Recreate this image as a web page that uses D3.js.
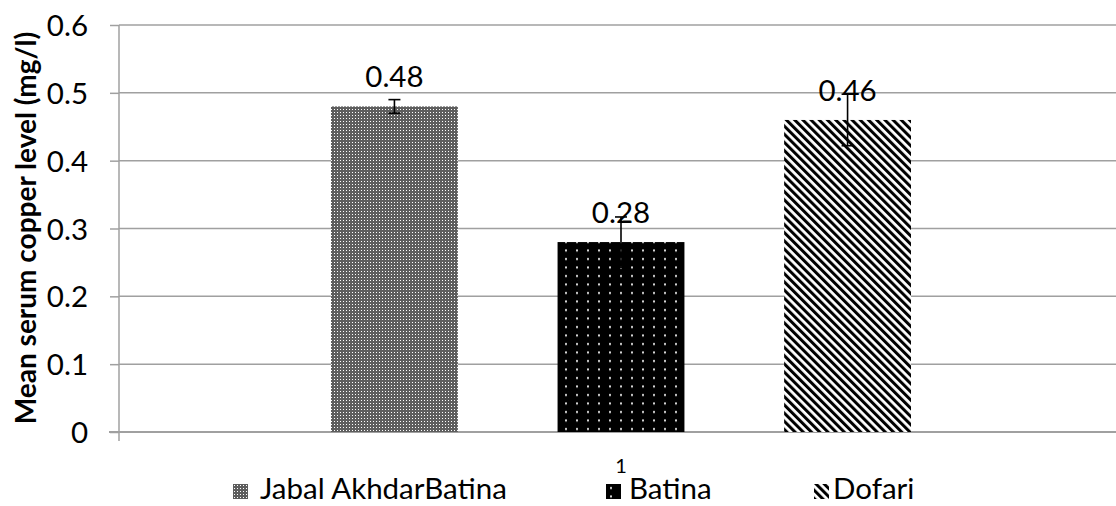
<!DOCTYPE html>
<html><head><meta charset="utf-8">
<script src="https://cdn.jsdelivr.net/npm/d3@7"></script>
<style>
html,body{margin:0;padding:0;background:#fff;}
svg{display:block;}
text{font-family:Lato,"Open Sans",sans-serif;fill:#000;}
</style></head>
<body>
<svg id="chart" width="1116" height="506"></svg>
<script>
// ---- data ----
const categories = ["1"];
const seriesNames = ["Jabal AkhdarBatina", "Batina", "Dofari"];
const seriesValues = [0.48, 0.28, 0.46];
const seriesErrors = [0.01, 0.037, 0.038];
const yTickValues = [0, 0.1, 0.2, 0.3, 0.4, 0.5, 0.6];
const yTickLabels = ["0", "0.1", "0.2", "0.3", "0.4", "0.5", "0.6"];
const yAxisTitle = "Mean serum copper level (mg/l)";

// ---- layout ----
const W = 1116, H = 506;
const plot = {left: 119, right: 1123, top: 25, bottom: 432};
const gridColor = "#a0a0a0";
const FS = 29.5;

const svg = d3.select("#chart");
const defs = svg.append("defs");

// patterns
const p1 = defs.append("pattern").attr("id","pat0").attr("patternUnits","userSpaceOnUse")
  .attr("width",3).attr("height",3);
p1.append("rect").attr("width",3).attr("height",3).attr("fill","#5e5e5e");
p1.append("rect").attr("x",1).attr("y",1).attr("width",1).attr("height",1).attr("fill","#fff");

const p2 = defs.append("pattern").attr("id","pat1").attr("patternUnits","userSpaceOnUse")
  .attr("width",11).attr("height",8.5);
p2.append("rect").attr("width",11).attr("height",8.5).attr("fill","#000");
p2.append("rect").attr("x",4).attr("y",3).attr("width",2).attr("height",2).attr("fill","#ddd");

const pw = 5.8;
const p3 = defs.append("pattern").attr("id","pat2").attr("patternUnits","userSpaceOnUse")
  .attr("width",pw).attr("height",pw).attr("patternTransform","rotate(-45)");
p3.append("rect").attr("width",pw).attr("height",pw).attr("fill","#fff");
p3.append("rect").attr("width",pw*0.52).attr("height",pw).attr("fill","#000");

// scales
const y = d3.scaleLinear().domain([0, 0.6]).range([plot.bottom, plot.top]);
const x0 = d3.scaleBand().domain(categories).range([plot.left, plot.right])
  .paddingInner(0).paddingOuter(0.3655);
const x1 = d3.scaleBand().domain(seriesNames).range([0, x0.bandwidth()])
  .paddingInner(0.44).paddingOuter(0);

// gridlines
svg.append("g").selectAll("line").data(yTickValues.filter(v => v > 0)).join("line")
  .attr("x1", plot.left).attr("x2", plot.right)
  .attr("y1", d => y(d)).attr("y2", d => y(d))
  .attr("stroke", gridColor).attr("stroke-width", 1.5);

// y axis
const yAxis = d3.axisLeft(y).tickValues(yTickValues).tickSize(9).tickPadding(22)
  .tickFormat((d,i) => yTickLabels[i]);
const gy = svg.append("g").attr("transform", `translate(${plot.left},0)`).call(yAxis);
gy.select(".domain").attr("stroke", gridColor).attr("stroke-width",1.5)
  .attr("d", `M0,${plot.top}V${plot.bottom}`);
gy.selectAll(".tick line").attr("stroke", gridColor).attr("stroke-width",1.5);
gy.selectAll(".tick text").attr("font-size", FS).attr("font-family","Lato").attr("fill","#000")
  .attr("dy","0.36em");

// x axis
const gx = svg.append("g").attr("transform", `translate(0,${plot.bottom})`);
gx.append("line").attr("x1", plot.left - 10).attr("x2", plot.right)
  .attr("stroke", gridColor).attr("stroke-width", 2);
gx.append("line").attr("x1", plot.left).attr("x2", plot.left).attr("y1",0).attr("y2",9)
  .attr("stroke", gridColor).attr("stroke-width", 1.5);
gx.selectAll("text.cat").data(categories).join("text").attr("class","cat")
  .attr("x", d => x0(d) + x0.bandwidth()/2).attr("y", 41)
  .attr("text-anchor","middle").attr("font-size",20).text(d => d);

// bars
const bars = svg.append("g");
const data = seriesNames.map((s,i) => ({s, i, v: seriesValues[i], e: seriesErrors[i]}));
bars.selectAll("rect").data(data).join("rect")
  .attr("x", d => x0(categories[0]) + x1(d.s))
  .attr("y", d => y(d.v))
  .attr("width", x1.bandwidth())
  .attr("height", d => y(0) - y(d.v))
  .attr("fill", d => `url(#pat${d.i})`);

// error bars
const eb = svg.append("g").attr("stroke","#000").attr("stroke-width",1.6);
data.forEach(d => {
  const cx = x0(categories[0]) + x1(d.s) + x1.bandwidth()/2;
  eb.append("line").attr("x1",cx).attr("x2",cx).attr("y1",y(d.v+d.e)).attr("y2",y(d.v-d.e));
  [d.v+d.e, d.v-d.e].forEach(v => {
    eb.append("line").attr("x1",cx-6).attr("x2",cx+6).attr("y1",y(v)).attr("y2",y(v));
  });
});

// data labels
svg.append("g").selectAll("text").data(data).join("text")
  .attr("x", d => x0(categories[0]) + x1(d.s) + x1.bandwidth()/2)
  .attr("y", d => y(d.v) - 19)
  .attr("text-anchor","middle").attr("font-size",FS)
  .text(d => d.v.toFixed(2));

// y axis title
svg.append("text")
  .attr("transform", `translate(36,228) rotate(-90)`)
  .attr("text-anchor","middle").attr("font-size",28).attr("font-weight","bold")
  .text(yAxisTitle);

// legend
const legendX = [233, 606, 814];
const legendTextX = [27, 23, 19];
const lg = svg.append("g");
data.forEach((d,i) => {
  const g = lg.append("g").attr("transform", `translate(${legendX[i]},484)`);
  g.append("rect").attr("width",15).attr("height",15).attr("fill", `url(#pat${d.i})`);
  g.append("text").attr("x", legendTextX[i]).attr("y", 15).attr("font-size",FS).text(d.s);
});
</script>
</body></html>
